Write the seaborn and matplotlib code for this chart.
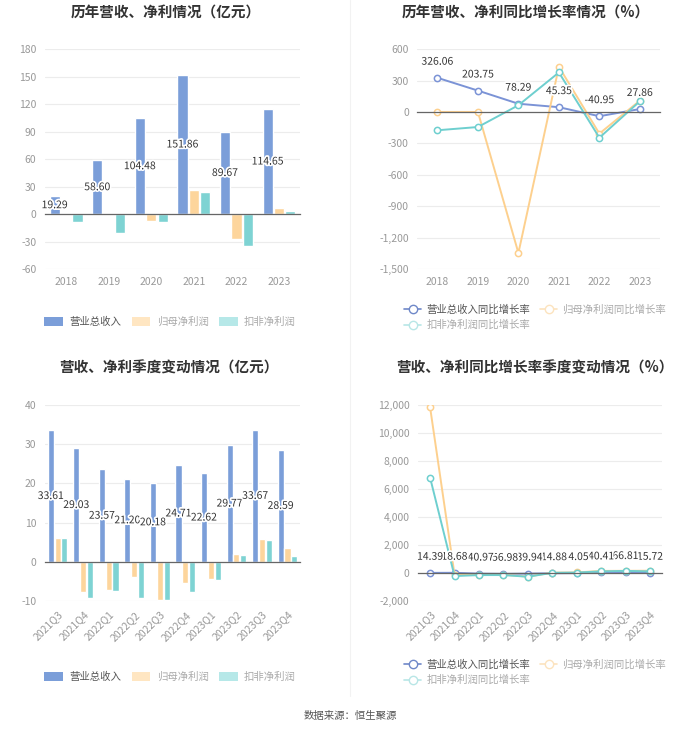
import matplotlib
matplotlib.use("Agg")
import matplotlib.pyplot as plt
import matplotlib.patheffects as pe
from matplotlib.lines import Line2D
from matplotlib.patches import Patch
from matplotlib.ticker import FuncFormatter
import seaborn as sns
import pandas as pd

sns.set_style("white")
plt.rcParams['font.family'] = ['Noto Sans CJK SC', 'DejaVu Sans']
plt.rcParams['axes.unicode_minus'] = False

# ---- data ----
years = ["2018", "2019", "2020", "2021", "2022", "2023"]
rev_year = [19.29, 58.60, 104.48, 151.86, 89.67, 114.65]
np_year = [0.2, 0.2, -8.0, 26.2, -26.9, 6.2]
dnp_year = [-9.0, -21.0, -9.0, 24.4, -34.9, 3.3]

rev_yoy = [326.06, 203.75, 78.29, 45.35, -40.95, 27.86]
np_yoy = [0, 0, -1347, 431, -207, 108]
dnp_yoy = [-175, -144, 64, 377, -246, 102]

quarters = ["2021Q3", "2021Q4", "2022Q1", "2022Q2", "2022Q3",
            "2022Q4", "2023Q1", "2023Q2", "2023Q3", "2023Q4"]
rev_q = [33.61, 29.03, 23.57, 21.20, 20.18, 24.71, 22.62, 29.77, 33.67, 28.59]
np_q = [6.2, -7.8, -7.3, -3.8, -9.7, -5.3, -4.4, 2.0, 5.8, 3.6]
dnp_q = [6.1, -9.1, -7.5, -9.3, -9.8, -7.6, -4.7, 1.8, 5.5, 1.4]

rev_q_yoy = [14.39, 18.68, -40.97, -56.98, -39.94, -14.88, -4.05, 40.41, 66.81, 15.72]
np_q_yoy = [11830, -120, -150, -120, -256, 32, 40, 153, 160, 168]
dnp_q_yoy = [6810, -214, -143, -143, -262, 16, 37, 119, 156, 118]

bar_names = ["营业总收入", "归母净利润", "扣非净利润"]
line_names = ["营业总收入同比增长率", "归母净利润同比增长率", "扣非净利润同比增长率"]

bar_colors = ["#7B9ED9", "#FDD59C", "#7ED3D3"]
line_colors = ["#7B93D6", "#FDD08E", "#6ECFCF"]
legend_bar_colors = ["#7B9ED9", "#FFE6C2", "#B6E8E8"]
legend_line_colors = ["#6F88C8", "#FCE3BE", "#B8E6E6"]
legend_text_colors = ["#555555", "#AAAAAA", "#AAAAAA"]

GRID = "#ECECEC"
TICK = "#999999"
LABEL_FS = 7.5
outline = [pe.withStroke(linewidth=2.5, foreground="white")]


def long_df(cats, series):
    rows = []
    for name, vals in series:
        for c, v in zip(cats, vals):
            rows.append({"cat": c, "value": v, "series": name})
    return pd.DataFrame(rows)


def style_axes(ax, cats, ylim, yticks, rotate=False, fmt=False):
    ax.set_xlim(-0.5, len(cats) - 0.5)
    ax.set_ylim(*ylim)
    ax.set_yticks(yticks)
    if fmt:
        ax.yaxis.set_major_formatter(FuncFormatter(lambda v, p: f"{int(v):,}"))
    ax.grid(axis="y", color=GRID, lw=0.8)
    ax.set_axisbelow(True)
    for s in ["top", "right", "left"]:
        ax.spines[s].set_visible(False)
    ax.spines["bottom"].set_position(("data", 0))
    ax.spines["bottom"].set_color("#666666")
    ax.spines["bottom"].set_linewidth(0.9)
    ax.set_xticks(range(len(cats)))
    ax.tick_params(axis="x", labelbottom=False, length=4, color="#666666", width=0.8)
    ax.tick_params(axis="y", length=0, labelsize=LABEL_FS, labelcolor=TICK, pad=6)
    ax.set_xlabel("")
    ax.set_ylabel("")
    sec = ax.secondary_xaxis("bottom")
    sec.set_xticks(range(len(cats)))
    sec.spines["bottom"].set_visible(False)
    sec.tick_params(length=0, labelsize=LABEL_FS, labelcolor=TICK, pad=6)
    if rotate:
        sec.set_xticklabels(cats, rotation=45, ha="right", rotation_mode="anchor")
    else:
        sec.set_xticklabels(cats)


def bar_panel(ax, cats, rev, np_, dnp, ylim, yticks, rotate=False):
    df = long_df(cats, [(bar_names[0], rev), (bar_names[1], np_), (bar_names[2], dnp)])
    sns.barplot(data=df, x="cat", y="value", hue="series", palette=bar_colors,
                saturation=1, width=0.8, gap=0.1, legend=False, ax=ax)
    style_axes(ax, cats, ylim, yticks, rotate)
    for patch, v in zip(ax.containers[0], rev):
        ax.text(patch.get_x() + patch.get_width() / 2, v / 2, f"{v:.2f}",
                ha="center", va="center", fontsize=LABEL_FS, color="#333333",
                path_effects=outline, zorder=5)


def line_panel(ax, cats, rev, np_, dnp, ylim, yticks, rotate=False):
    df = long_df(cats, [(line_names[0], rev), (line_names[1], np_), (line_names[2], dnp)])
    sns.lineplot(data=df, x="cat", y="value", hue="series", palette=line_colors,
                 marker="o", markersize=4.5, lw=1.4, sort=False, legend=False, ax=ax)
    for ln in ax.lines:
        ln.set_markeredgecolor(ln.get_color())
        ln.set_markerfacecolor("white")
        ln.set_markeredgewidth(1.1)
    style_axes(ax, cats, ylim, yticks, rotate, fmt=True)
    n = len(cats)
    for i, v in enumerate(rev):
        ax.annotate(f"{v:.2f}", (i, v), xytext=(0, 8), textcoords="offset points",
                    ha="center", va="bottom", fontsize=LABEL_FS, color="#333333",
                    path_effects=outline, zorder=10 + n - i)


fig = plt.figure(figsize=(7, 7.33), dpi=100)

ax1 = fig.add_axes([0.064, 0.633, 0.365, 0.300])
ax2 = fig.add_axes([0.596, 0.633, 0.347, 0.300])
ax3 = fig.add_axes([0.064, 0.180, 0.365, 0.2674])
ax4 = fig.add_axes([0.597, 0.180, 0.349, 0.2674])

bar_panel(ax1, years, rev_year, np_year, dnp_year, (-60, 180), range(-60, 181, 30))
line_panel(ax2, years, rev_yoy, np_yoy, dnp_yoy, (-1500, 600), range(-1500, 601, 300))
bar_panel(ax3, quarters, rev_q, np_q, dnp_q, (-10, 40), range(-10, 41, 10), rotate=True)
line_panel(ax4, quarters, rev_q_yoy, np_q_yoy, dnp_q_yoy, (-2000, 12000),
           range(-2000, 12001, 2000), rotate=True)

# titles
title_kw = dict(ha="center", va="center", fontsize=10.5, fontweight="bold", color="#333333")
fig.text(166 / 700, 1 - 13 / 733, "历年营收、净利情况（亿元）", **title_kw)
fig.text(526 / 700, 1 - 13 / 733, "历年营收、净利同比增长率情况（%）", **title_kw)
fig.text(169 / 700, 1 - 368 / 733, "营收、净利季度变动情况（亿元）", **title_kw)
fig.text(535 / 700, 1 - 368 / 733, "营收、净利同比增长率季度变动情况（%）", **title_kw)

# separator
fig.add_artist(Line2D([0.5, 0.5], [0.05, 1.0], transform=fig.transFigure,
                      color="#F2F2F2", lw=0.8))


def bar_legend(y):
    handles = [Patch(facecolor=c, edgecolor="none") for c in legend_bar_colors]
    leg = fig.legend(handles, bar_names, loc="center", bbox_to_anchor=(170 / 700, 1 - y / 733),
                     ncol=3, frameon=False, fontsize=LABEL_FS, handlelength=1.8,
                     handleheight=1.0, columnspacing=1.0, handletextpad=0.6)
    for t, c in zip(leg.get_texts(), legend_text_colors):
        t.set_color(c)


def line_legend(y):
    handles = [Line2D([], [], color=c, marker="o", markerfacecolor="white",
                      markeredgecolor=c, markersize=6, lw=1.2) for c in legend_line_colors]
    order = [0, 2, 1]
    leg = fig.legend([handles[i] for i in order], [line_names[i] for i in order],
                     loc="upper left", bbox_to_anchor=(395 / 700, 1 - y / 733),
                     ncol=2, frameon=False, fontsize=LABEL_FS, handlelength=1.6,
                     columnspacing=1.0, handletextpad=0.5, labelspacing=0.5)
    for t, i in zip(leg.get_texts(), order):
        t.set_color(legend_text_colors[i])


bar_legend(322)
line_legend(295)
bar_legend(677)
line_legend(650)

fig.text(0.5, 1 - 716 / 733, "数据来源：恒生聚源", ha="center", va="center",
         fontsize=LABEL_FS, color="#555555")

fig.savefig("out.png", dpi=100, facecolor="white")
